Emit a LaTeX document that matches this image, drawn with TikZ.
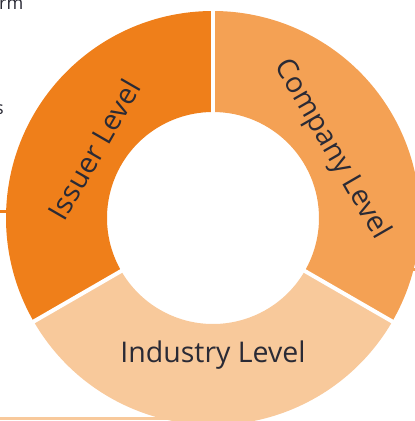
\documentclass[tikz,border=0pt]{standalone}
\usepackage{fontspec}
\setmainfont{Open Sans}
\definecolor{issuer}{HTML}{EF7F1A}
\definecolor{company}{HTML}{F4A154}
\definecolor{industry}{HTML}{F8C99B}
\definecolor{ink}{HTML}{2A2A35}

\begin{document}
\begin{tikzpicture}[
  x=1pt, y=1pt,
  gap/.style={draw=white, line width=4pt},
  lbl/.style={text=ink, font=\fontsize{28.5}{34}\selectfont, inner sep=0pt},
  stub/.style={line width=3pt},
  note/.style={text=ink, font=\fontsize{18}{21}\selectfont, inner sep=0pt}
]
  \useasboundingbox (0,0) rectangle (415,421);
  \coordinate (c) at (213,203);

  % connector stubs, ending under the ring
  \coordinate (lft) at (0,209);
  \coordinate (lftend) at (40,209);
  \coordinate (rgt) at (415,151);
  \coordinate (rgtend) at (385,151);
  \coordinate (bot) at (0,2.5);
  \coordinate (botend) at (213,2.5);
  \draw[stub, issuer] (lft) -- (lftend);
  \draw[stub, company] (rgt) -- (rgtend);
  \draw[stub, industry] (bot) -- (botend);

  % ring segments
  \fill[issuer] ([shift={(90:207)}]c) arc[start angle=90, end angle=210, radius=207]
    -- ([shift={(210:106)}]c) arc[start angle=210, end angle=90, radius=106] -- cycle;
  \fill[company] ([shift={(-30:207)}]c) arc[start angle=-30, end angle=90, radius=207]
    -- ([shift={(90:106)}]c) arc[start angle=90, end angle=-30, radius=106] -- cycle;
  \fill[industry] ([shift={(210:207)}]c) arc[start angle=210, end angle=330, radius=207]
    -- ([shift={(330:106)}]c) arc[start angle=330, end angle=210, radius=106] -- cycle;
  \foreach \a in {90,210,330}
    \draw[gap] ([shift={(\a:100)}]c) -- ([shift={(\a:212)}]c);

  % labels
  \node[lbl, rotate=60] (iss) at ([shift={(150:137)}]c) {Issuer Level};
  \node[lbl, rotate=-60] (comp) at ([shift={(30:137)}]c) {Company Level};
  \node[lbl] (ind) at ([shift={(270:137)}]c) {Industry Level};

  % cut-off text at the left edge
  \node[note, anchor=base west] (frag1) at (-1,411) {rm};
  \node[note, anchor=base east] (frag2) at (4,306) {s};
\end{tikzpicture}
\end{document}
